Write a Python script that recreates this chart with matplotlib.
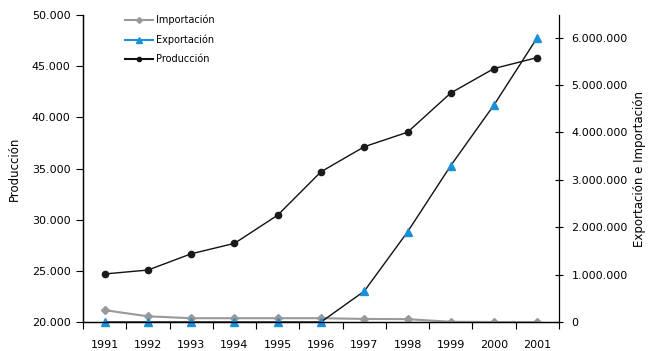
import matplotlib
matplotlib.use("Agg")
import matplotlib.pyplot as plt
from matplotlib.lines import Line2D
from matplotlib.ticker import FuncFormatter
import numpy as np

years = ["1991", "1992", "1993", "1994", "1995", "1996", "1997", "1998", "1999", "2000", "2001"]
produccion = [24700, 25080, 26670, 27690, 30450, 34690, 37140, 38560, 42400, 44790, 45860]
exportacion = [0, 0, 0, 0, 0, 0, 650000, 1900000, 3300000, 4580000, 6000000]
importacion = [250000, 120000, 80000, 80000, 80000, 80000, 65000, 60000, 5000, 0, 0]

BLUE = "#1b8fd8"
GRAY = "#999999"

def dotted_thousands(v, pos=None):
    return f"{int(round(v)):,}".replace(",", ".")

plt.rcParams["font.family"] = "DejaVu Sans"
fig = plt.figure(figsize=(6.56, 3.51), dpi=100)
ax = fig.add_axes([0.1265, 0.0826, 0.7256, 0.874])
ax2 = ax.twinx()

x = np.arange(len(years))

ax.plot(x, produccion, color="#111111", lw=1.0, marker="o", ms=4.5,
        markerfacecolor="#1a1a1a", markeredgecolor="#1a1a1a", zorder=3)
ax2.plot(x, importacion, color=GRAY, lw=1.5, marker="D", ms=4,
         markerfacecolor=GRAY, markeredgecolor=GRAY)
ax2.plot(x, exportacion, color="#111111", lw=1.0, marker="^", ms=6,
         markerfacecolor=BLUE, markeredgecolor=BLUE, clip_on=False)

ax.set_xlim(-0.5, len(years) - 0.5)
ax.set_ylim(20000, 50000)
ax.set_yticks(np.arange(20000, 50001, 5000))
ax.yaxis.set_major_formatter(FuncFormatter(dotted_thousands))
ax2.set_ylim(0, 6470000)
ax2.set_yticks(np.arange(0, 6000001, 1000000))
ax2.yaxis.set_major_formatter(FuncFormatter(dotted_thousands))

ax.set_xticks(x)
ax.set_xticklabels(years)
ax.set_xticks(np.arange(-0.5, len(years)), minor=True)
ax.tick_params(axis="x", which="major", length=0, pad=13, labelsize=8)
ax.tick_params(axis="x", which="minor", length=5, direction="out", width=0.8)
ax.tick_params(axis="y", length=5, direction="out", width=0.8, labelsize=8, pad=4)
ax2.tick_params(axis="y", length=6, direction="inout", width=0.8, labelsize=8, pad=6)

for a in (ax, ax2):
    a.spines["top"].set_visible(False)
    for s in a.spines.values():
        s.set_linewidth(0.9)
ax.spines["right"].set_visible(False)

ax.set_ylabel("Producción", fontsize=8.5, labelpad=8)
ax2.set_ylabel("Exportación e Importación", fontsize=8.5, labelpad=4)

handles = [
    Line2D([], [], color=GRAY, lw=1.5, marker="D", ms=3, markerfacecolor=GRAY, markeredgecolor=GRAY),
    Line2D([], [], color=BLUE, lw=1.5, marker="^", ms=4, markerfacecolor=BLUE, markeredgecolor=BLUE),
    Line2D([], [], color="#111111", lw=1.5, marker="o", ms=3, markerfacecolor="#111111"),
]
ax2.legend(handles, ["Importación", "Exportación", "Producción"], loc="upper left",
           bbox_to_anchor=(0.07, 1.03), frameon=False, fontsize=7,
           handlelength=2.9, handletextpad=0.3, labelspacing=0.95)

fig.savefig("out.png", dpi=100)
